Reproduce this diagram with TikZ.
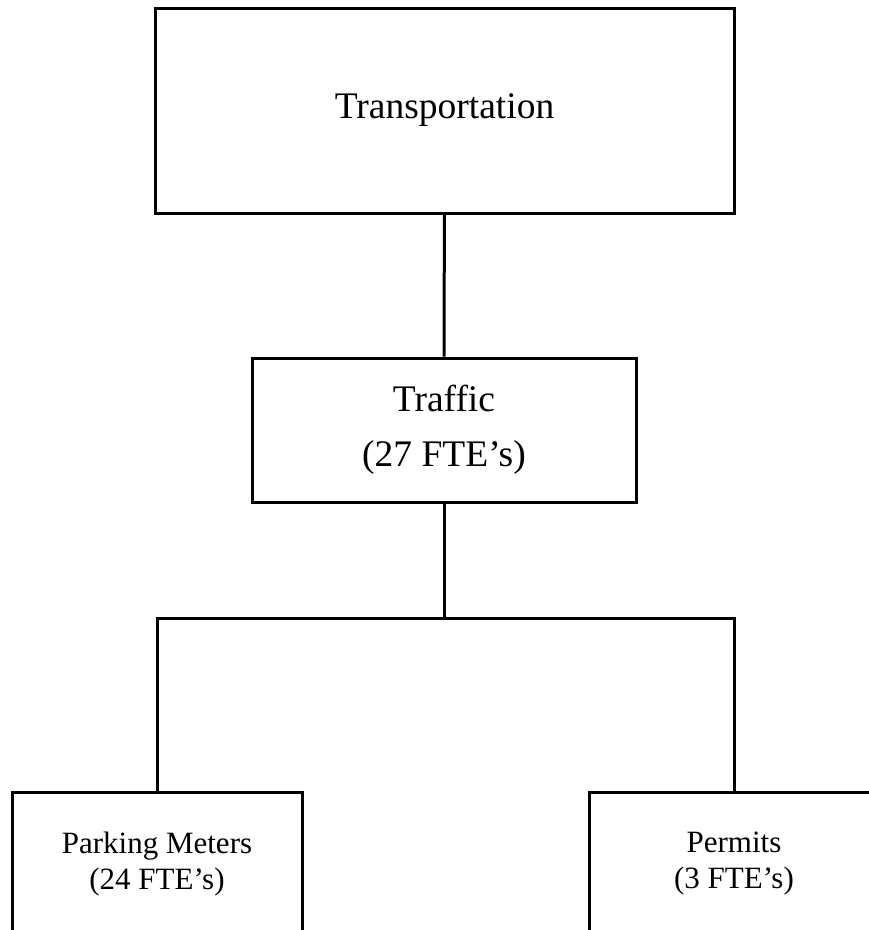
\documentclass[tikz,border=0pt]{standalone}
\usepackage{fontspec}
\setmainfont{Liberation Serif}
\usepackage{tikz}
\usetikzlibrary{positioning}

\begin{document}
\begin{tikzpicture}[x=1pt, y=-1pt, line width=3pt,
    unit/.style={draw, rectangle, align=center, inner sep=0pt},
    big/.style={font=\fontsize{37.5}{55}\selectfont},
    small/.style={font=\fontsize{31}{36}\selectfont}]
      \useasboundingbox (0,0) rectangle (869,930);
      \clip (0,0) rectangle (869,930);
      \node[unit, big, minimum width=579pt, minimum height=205pt] (trans) at (444.5,110.5) {Transportation};
      \node[unit, big, minimum width=384pt, minimum height=144pt] (traffic) at (444,430) {Traffic\\(27 FTE’s)};
      \node[unit, small, minimum width=290pt, minimum height=144pt] (meters) at (157,864) {Parking Meters\\(24 FTE’s)};
      \node[unit, small, minimum width=290pt, minimum height=144pt] (permits) at (734,864) {Permits\\(3 FTE’s)};
      \coordinate (split) at (444,618);
      \draw (trans) -- (traffic);
      \draw (traffic) -- (split);
      \draw (meters.north) |- (split) -| (permits.north);
    \end{tikzpicture}
\end{document}
